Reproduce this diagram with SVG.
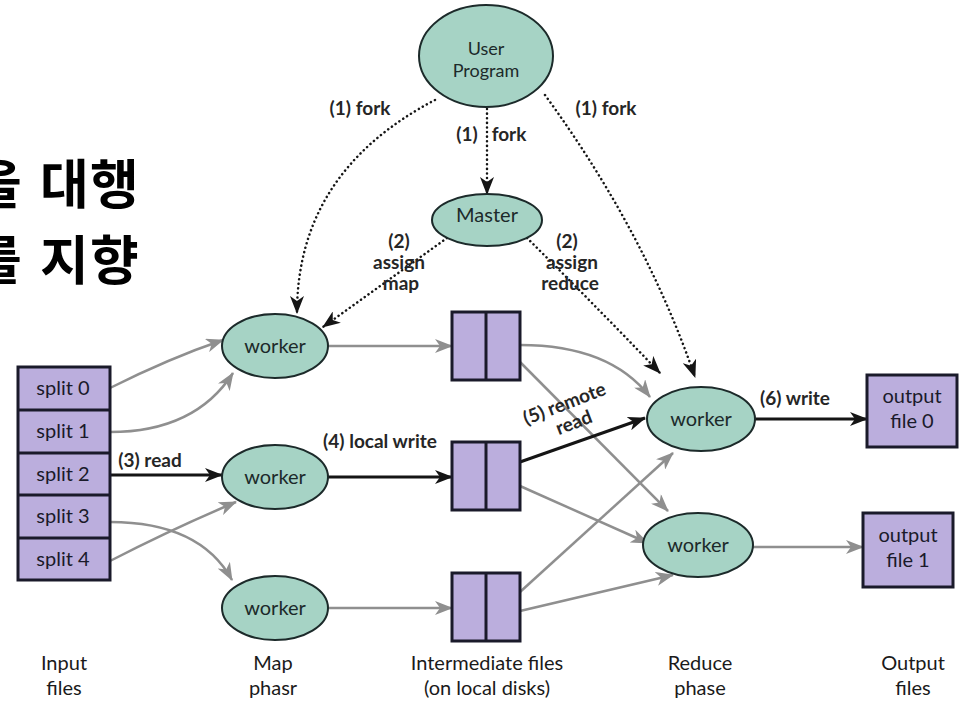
<svg xmlns="http://www.w3.org/2000/svg" width="961" height="725" viewBox="0 0 961 725">
  <style>
    .node ellipse { fill: #a6d3c5; stroke: #1c2a2a; stroke-width: 2; }
    .file rect, .file line { fill: #bbaedd; stroke: #1a1a2a; stroke-width: 3; }
    .lbl { font-family: Lato, "Liberation Sans", sans-serif; font-size: 19px; font-weight: bold; fill: #262626; text-anchor: middle; }
    .nlbl { font-family: Lato, "Liberation Sans", sans-serif; font-size: 20px; fill: #1c2a2a; text-anchor: middle; }
    .flbl { font-family: Lato, "Liberation Sans", sans-serif; font-size: 20px; fill: #1a1a2a; text-anchor: middle; }
    .cap { font-family: Lato, "Liberation Sans", sans-serif; font-size: 20px; fill: #1a1a1a; text-anchor: middle; }
    .ko { font-family: "Noto Sans CJK KR", sans-serif; font-size: 53px; font-weight: bold; fill: #000; }
    .gray { fill: none; stroke: #8f8f8f; stroke-width: 2.5; marker-end: url(#ah-gray); }
    .dark { fill: none; stroke: #151515; stroke-width: 3; marker-end: url(#ah-dark); }
    .dot { fill: none; stroke: #151515; stroke-width: 2.5; stroke-dasharray: 0.1 4.5; stroke-linecap: round; marker-end: url(#ah-dark); }
  </style>
  <defs>
    <marker id="ah-dark" viewBox="0 0 18 14" refX="17" refY="7" markerWidth="18" markerHeight="14" orient="auto" markerUnits="userSpaceOnUse">
      <path d="M0,0 L18,7 L0,14 L5,7 z" fill="#151515"/>
    </marker>
    <marker id="ah-gray" viewBox="0 0 18 14" refX="17" refY="7" markerWidth="18" markerHeight="14" orient="auto" markerUnits="userSpaceOnUse">
      <path d="M0,0 L18,7 L0,14 L5,7 z" fill="#8f8f8f"/>
    </marker>
  </defs>
  <rect width="961" height="725" fill="#fff"/>

  <!-- Korean caption fragment running off the left edge -->
  <text class="ko" x="-27 18 40 90" y="204">을 대행</text>
  <text class="ko" x="-27 18 40 90" y="280">를 지향</text>

  <!-- connectors -->
  <g id="connectors">
    <!-- (1) fork -->
    <path class="dot" d="M435,100 Q297,172 297,313"/>
    <path class="dot" d="M487,109 L487,194"/>
    <path class="dot" d="M545,95 Q645,232 695,377"/>
    <!-- (2) assign -->
    <path class="dot" d="M447,238 L323,327"/>
    <path class="dot" d="M527,238 Q590,300 660,373"/>
    <!-- input splits to map workers -->
    <path class="gray" d="M110,388 Q170,358 223,340"/>
    <path class="gray" d="M110,432 Q195,432 233,373"/>
    <path class="dark" d="M110,475 L222,475"/>
    <path class="gray" d="M110,522 Q200,522 232,580"/>
    <path class="gray" d="M110,561 Q170,530 236,502"/>
    <!-- map workers to intermediate files -->
    <path class="gray" d="M328,346 L452,346"/>
    <path class="dark" d="M328,477 L452,477"/>
    <path class="gray" d="M328,608 L452,608"/>
    <!-- intermediate files to reduce workers -->
    <path class="gray" d="M520,345 Q610,345 650,397"/>
    <path class="gray" d="M520,362 L668,511"/>
    <path class="dark" d="M520,462 L645,418"/>
    <path class="gray" d="M520,486 L648,543"/>
    <path class="gray" d="M520,592 L673,453"/>
    <path class="gray" d="M520,611 L673,575"/>
    <!-- reduce workers to output files -->
    <path class="dark" d="M755,419 L867,419"/>
    <path class="gray" d="M752,547 L863,547"/>
  </g>

  <!-- connector labels -->
  <g id="edge-labels">
    <text class="lbl" x="360" y="115">(1) fork</text>
    <text class="lbl" x="606" y="115">(1) fork</text>
    <text class="lbl" x="467" y="141">(1)</text>
    <text class="lbl" x="509" y="141">fork</text>
    <text class="lbl" x="399" y="248">(2)</text>
    <text class="lbl" x="399" y="269">assign</text>
    <text class="lbl" x="401" y="290">map</text>
    <text class="lbl" x="567" y="248">(2)</text>
    <text class="lbl" x="572" y="269">assign</text>
    <text class="lbl" x="570" y="290">reduce</text>
    <text class="lbl" x="150" y="467">(3) read</text>
    <text class="lbl" x="380" y="448">(4) local write</text>
    <g transform="translate(565,405) rotate(-21)">
      <text class="lbl" x="0" y="5">(5) remote</text>
      <text class="lbl" x="2" y="26">read</text>
    </g>
    <text class="lbl" x="795" y="405">(6) write</text>
  </g>

  <!-- nodes -->
  <g id="user-program" class="node">
    <ellipse cx="486" cy="56" rx="67" ry="51"/>
    <text class="nlbl" x="486" y="55" style="font-size:18px">User</text>
    <text class="nlbl" x="486" y="77" style="font-size:18px">Program</text>
  </g>
  <g id="master" class="node">
    <ellipse cx="487" cy="220" rx="55" ry="26"/>
    <text class="nlbl" x="487" y="222">Master</text>
  </g>

  <g id="input-files" class="file">
    <rect x="18" y="367" width="92" height="213"/>
    <line x1="18" y1="410" x2="110" y2="410"/>
    <line x1="18" y1="453" x2="110" y2="453"/>
    <line x1="18" y1="495" x2="110" y2="495"/>
    <line x1="18" y1="538" x2="110" y2="538"/>
    <text class="flbl" x="63" y="395">split 0</text>
    <text class="flbl" x="63" y="438">split 1</text>
    <text class="flbl" x="63" y="481">split 2</text>
    <text class="flbl" x="63" y="523">split 3</text>
    <text class="flbl" x="63" y="566">split 4</text>
  </g>

  <g id="map-worker-0" class="node">
    <ellipse cx="275" cy="346" rx="53" ry="32"/>
    <text class="nlbl" x="275" y="353">worker</text>
  </g>
  <g id="map-worker-1" class="node">
    <ellipse cx="275" cy="477" rx="53" ry="32"/>
    <text class="nlbl" x="275" y="484">worker</text>
  </g>
  <g id="map-worker-2" class="node">
    <ellipse cx="275" cy="608" rx="53" ry="32"/>
    <text class="nlbl" x="275" y="615">worker</text>
  </g>

  <g id="intermediate-0" class="file">
    <rect x="452" y="312" width="68" height="68"/>
    <line x1="486" y1="312" x2="486" y2="380"/>
  </g>
  <g id="intermediate-1" class="file">
    <rect x="452" y="442" width="68" height="68"/>
    <line x1="486" y1="442" x2="486" y2="510"/>
  </g>
  <g id="intermediate-2" class="file">
    <rect x="452" y="573" width="68" height="68"/>
    <line x1="486" y1="573" x2="486" y2="641"/>
  </g>

  <g id="reduce-worker-0" class="node">
    <ellipse cx="701" cy="419" rx="54" ry="32"/>
    <text class="nlbl" x="701" y="426">worker</text>
  </g>
  <g id="reduce-worker-1" class="node">
    <ellipse cx="698" cy="545" rx="55" ry="32"/>
    <text class="nlbl" x="698" y="552">worker</text>
  </g>

  <g id="output-file-0" class="file">
    <rect x="867" y="375" width="90" height="72"/>
    <text class="flbl" x="912" y="403">output</text>
    <text class="flbl" x="912" y="428">file 0</text>
  </g>
  <g id="output-file-1" class="file">
    <rect x="863" y="513" width="90" height="74"/>
    <text class="flbl" x="908" y="542">output</text>
    <text class="flbl" x="908" y="567">file 1</text>
  </g>

  <!-- column captions -->
  <g id="captions">
    <text class="cap" x="64" y="670">Input</text>
    <text class="cap" x="64" y="695">files</text>
    <text class="cap" x="273" y="670">Map</text>
    <text class="cap" x="273" y="695">phasr</text>
    <text class="cap" x="487" y="670">Intermediate files</text>
    <text class="cap" x="487" y="695">(on local disks)</text>
    <text class="cap" x="700" y="670">Reduce</text>
    <text class="cap" x="700" y="695">phase</text>
    <text class="cap" x="913" y="670">Output</text>
    <text class="cap" x="913" y="695">files</text>
  </g>
</svg>
